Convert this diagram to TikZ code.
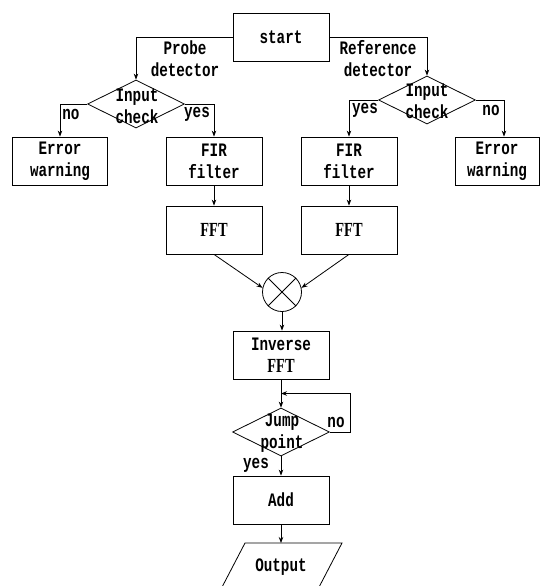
\documentclass[tikz,border=0pt]{standalone}
\usepackage{fontspec}
\setmonofont[FakeStretch=0.75]{Liberation Mono}
\newfontfamily\serifF[FakeStretch=0.72]{Liberation Serif}
\usetikzlibrary{arrows.meta,shapes.geometric,calc}
\begin{document}
\begin{tikzpicture}[x=1pt,y=-1pt,
  line width=0.8pt,
  every node/.style={font=\ttfamily\bfseries\fontsize{19}{22}\selectfont, align=center, inner sep=0pt},
  box/.style={draw, minimum width=96pt, minimum height=48pt},
  dia/.style={draw, diamond, minimum width=97pt, minimum height=48pt},
  arr/.style={-{Stealth[length=6pt,width=4.5pt]}},
  fftfont/.style={font=\serifF\bfseries\fontsize{20}{22}\selectfont}]
\useasboundingbox (0,0) rectangle (544,586);
\clip (0,0) rectangle (544,586);

% boxes
\node[box] (start) at (281,37) {start};
\node[dia] (dl) at (136,104) {};
\node (dlt) at (137,106) {Input\\check};
\node[dia] (dr) at (427,100) {};
\node (drt) at (427,101) {Input\\check};
\node[box, minimum width=95pt] (el) at (60,161) {Error\\warning};
\node[box] (fl) at (214,161) {FIR\\filter};
\node[box] (fr) at (349,161) {FIR\\filter};
\node[box, minimum width=84pt] (er) at (497,161) {Error\\warning};
\node[box, fftfont] (ffl) at (214,230) {FFT};
\node[box, fftfont] (ffr) at (349,230) {FFT};
\node[draw, circle, minimum size=39pt] (mul) at (282,292) {};
\draw (mul.45) -- (mul.225) (mul.135) -- (mul.315);
\node[box] (ifft) at (281,355) {Inverse\\{\serifF\bfseries\fontsize{20}{22}\selectfont FFT}};
\node[dia] (jp) at (281,432) {};
\node (jpt) at (282,433) {Jump\\point};
\node[box] (add) at (281,500) {Add};
\coordinate (outtop) at (281,543);
\draw (245,543) -- (342,543) -- (317,591) -- (220,591) -- cycle;
\node (out) at (281,567) {Output};

% labels
\node (pd) at (185,59) {Probe\\detector};
\node (rd) at (378,59) {Reference\\detector};
\node (lno) at (71,114) {no};
\node (lyes) at (197,114) {yes};
\node (ryes) at (365,110) {yes};
\node (rno) at (491,110) {no};
\node (jno) at (336,422) {no};
\node (jyes) at (256,465) {yes};

% connectors
\draw[arr] (start.west) -| (dl.north);
\draw[arr] (start.east) -| (dr.north);
\draw[arr] (dl.west) -| (el.north);
\draw[arr] (dl.east) -| (fl.north);
\draw[arr] (dr.west) -| (fr.north);
\draw[arr] (dr.east) -| ([xshift=7pt]er.north);
\draw[arr] (fl) -- (ffl);
\draw[arr] (fr) -- (ffr);
\draw[arr] (ffl.south) -- (mul.168);
\draw[arr] (ffr.south) -- (mul.12);
\draw[arr] (mul.south) -- (mul.south |- ifft.north);
\draw[arr] (ifft) -- (jp);
\draw[arr] (jp.east) -- ++(20,0) |- ($(ifft.south)!0.5!(jp.north)$);
\draw[arr] (jp) -- (add);
\draw[arr] (add) -- (outtop);
\end{tikzpicture}
\end{document}
